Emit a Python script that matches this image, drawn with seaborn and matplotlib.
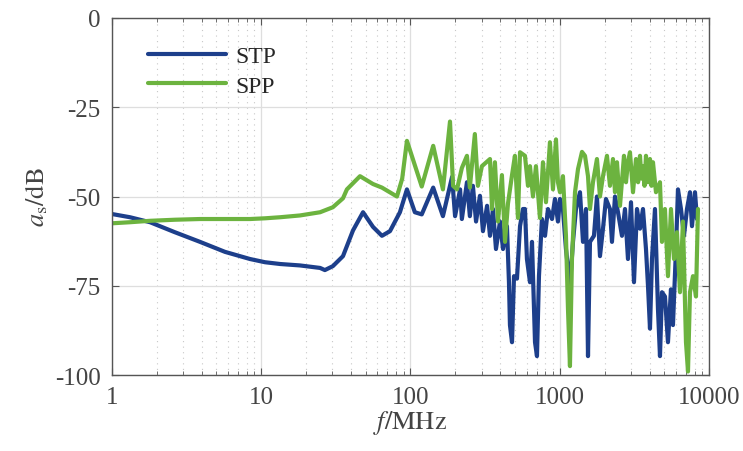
import matplotlib
matplotlib.use("Agg")
import matplotlib.pyplot as plt
import matplotlib.ticker as mticker
import seaborn as sns
import pandas as pd

# STP: frequency (MHz) and shielding attenuation (dB)
stp_freq = [1, 1.32, 1.8, 2.64, 3.89, 5.72, 8.41, 10.6, 13.4, 18.2, 24.8, 26.7,
            30.2, 35.3, 41.2, 48.1, 56.1, 64.4, 72.9, 85, 94.7, 107, 119, 142,
            165, 190, 199, 215, 221, 239, 250, 262, 275, 292, 306, 326, 341,
            357, 374, 398, 417, 443, 457, 464, 479, 494, 517, 542, 567, 585,
            603, 632, 652, 683, 704, 726, 760, 797, 834, 888, 929, 973, 1004,
            1051, 1101, 1171, 1227, 1285, 1367, 1432, 1500, 1547, 1595, 1696,
            1776, 1861, 1949, 2041, 2171, 2239, 2346, 2457, 2613, 2737, 2866,
            3003, 3145, 3294, 3450, 3613, 3784, 3903, 4025, 4151, 4347, 4553,
            4696, 4843, 5072, 5312, 5564, 5738, 6011, 6199, 6493, 6801, 7123,
            7461, 7694, 8059, 8312]
stp_db = [-54.9, -55.8, -57.2, -60, -62.7, -65.5, -67.5, -68.4, -68.9, -69.3,
          -70, -70.6, -69.5, -66.7, -59.5, -54.4, -58.5, -61, -59.7, -54.4,
          -48, -54.4, -55, -47.5, -55.5, -44.5, -55.5, -48, -56.3, -46, -55.5,
          -47, -57, -49.8, -59.7, -52.6, -61, -53.5, -64.7, -57, -64.7, -58.3,
          -74, -86, -90.8, -72.3, -73, -58.3, -53.5, -53.5, -67.5, -74, -62.7,
          -90.8, -94.7, -72.3, -56.3, -61, -53.5, -56.3, -50.7, -57, -50.7,
          -53.5, -64.7, -75, -62.7, -53.5, -48.8, -62.7, -53.5, -94.7, -62.7,
          -61, -50, -66.7, -59, -50.7, -53.5, -62.7, -50, -54.4, -61, -53.5,
          -67.5, -51.6, -74, -53.5, -59, -53.5, -64.7, -75, -87, -67.5, -53.5,
          -81.5, -94.7, -76.8, -78, -90.8, -76, -86, -64.7, -48, -53.5, -61,
          -53.5, -48.8, -58.3, -48.8, -56.3]

# SPP
spp_freq = [1, 1.32, 1.8, 2.64, 3.89, 5.72, 8.41, 10.6, 13.4, 18.2, 24.8, 30.2,
            35.3, 37.5, 45.9, 56.1, 64.4, 81.2, 88, 94.7, 119, 142, 165, 184,
            193, 205, 221, 239, 250, 270, 283, 301, 341, 352, 368, 386, 410,
            430, 450, 479, 501, 525, 542, 585, 613, 632, 662, 693, 737, 772,
            809, 860, 901, 944, 973, 1004, 1051, 1101, 1136, 1171, 1208, 1266,
            1326, 1410, 1477, 1547, 1595, 1670, 1776, 1861, 1949, 2073, 2171,
            2274, 2346, 2419, 2534, 2695, 2780, 2866, 2956, 3097, 3243, 3350,
            3450, 3530, 3613, 3700, 3784, 3900, 4025, 4120, 4215, 4415, 4696,
            4843, 5072, 5312, 5564, 5828, 6104, 6393, 6696, 7014, 7235, 7461,
            7814, 8184, 8441]
spp_db = [-57.5, -57.2, -56.8, -56.5, -56.3, -56.3, -56.3, -56.1, -55.8, -55.3,
          -54.4, -53, -50.5, -48, -44.3, -46.5, -47.5, -50, -45, -34.4, -47.2,
          -35.8, -48, -29, -47, -48, -42, -38.6, -47.5, -32.5, -47, -41.5,
          -39.5, -53.5, -40.4, -57, -44, -62.7, -52, -44, -38.6, -56, -37.6,
          -38.6, -47, -41.5, -50, -41.5, -56, -40.4, -51.6, -34.8, -48, -34,
          -46, -48.8, -44.3, -61, -81.5, -97.5, -67.5, -48.8, -42.3, -37.5,
          -38.6, -44.3, -53.5, -46, -39.5, -50, -44.3, -38.6, -47, -39.5,
          -48.8, -40.4, -52.6, -38.6, -46, -40.4, -37.6, -48.8, -39.5, -46,
          -38.6, -45, -41.5, -47, -38.6, -46, -39.5, -47, -40.4, -48.8, -46,
          -62.7, -53.5, -72.3, -53.5, -67.5, -60, -76.8, -57, -90.8, -99,
          -76.8, -72.3, -78, -53.5]

x_ticks = [1, 10, 100, 1000, 10000]
y_ticks = [0, -25, -50, -75, -100]

stp = pd.DataFrame({"f": stp_freq, "a": stp_db, "cable": "STP"})
spp = pd.DataFrame({"f": spp_freq, "a": spp_db, "cable": "SPP"})

sns.set_style("ticks")
plt.rcParams["font.family"] = ["Liberation Serif", "DejaVu Serif"]
plt.rcParams["mathtext.fontset"] = "stix"

fig = plt.figure(figsize=(7.43, 4.52), dpi=100)
ax = fig.add_axes([0.1507, 0.168, 0.8035, 0.79])

sns.lineplot(data=stp, x="f", y="a", color="#1d3f8b", linewidth=3.0,
             label="STP", ax=ax, sort=False)
sns.lineplot(data=spp, x="f", y="a", color="#6cb33f", linewidth=3.0,
             label="SPP", ax=ax, sort=False)

ax.set_xscale("log")
ax.set_xlim(1, 10000)
ax.set_ylim(-100, 0)
ax.set_xticks(x_ticks)
ax.set_xticklabels([str(t) for t in x_ticks])
ax.set_yticks(y_ticks)
ax.set_yticklabels([str(t) for t in y_ticks])
ax.xaxis.set_minor_locator(mticker.LogLocator(base=10, subs=range(2, 10)))
ax.xaxis.set_minor_formatter(mticker.NullFormatter())

ax.grid(True, which="major", color="#dedede", linewidth=0.9, linestyle="-")
ax.grid(True, which="minor", axis="x", color="#c8c8c8", linewidth=0.8,
        linestyle=(0, (1, 4)))
ax.set_axisbelow(True)

for s in ax.spines.values():
    s.set_color("#555555")
    s.set_linewidth(1.0)
ax.tick_params(which="both", direction="in", top=True, right=True,
               colors="#555555", labelcolor="#444444", labelsize=18, pad=8)
ax.tick_params(which="major", length=5)
ax.tick_params(which="minor", length=3)

ax.set_xlabel(r"$f/\mathrm{MHz}$", fontsize=19, color="#444444", labelpad=0)
ax.set_ylabel(r"$a_{\mathrm{s}}/\mathrm{dB}$", fontsize=19, color="#444444",
              labelpad=4)

ax.legend(loc="upper left", bbox_to_anchor=(0.045, 0.95), frameon=False,
          fontsize=17, handlelength=3.3, handletextpad=0.4, labelspacing=0.35,
          borderaxespad=0)

fig.savefig("out.png", dpi=100)
